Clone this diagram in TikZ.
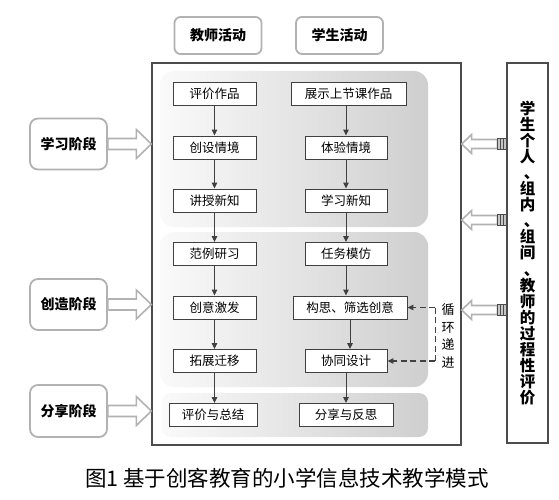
\documentclass[tikz,border=0pt]{standalone}
\usepackage{fontspec}
\setmainfont{Noto Sans CJK SC}
\usetikzlibrary{arrows.meta,calc}
\newcommand\vdun{\makebox[1em][l]{\hspace{0.26em}、}}
\begin{document}
\begin{tikzpicture}[x=1pt,y=-1pt,
  panel/.style={rounded corners=14pt, left color=gray!4, right color=gray!38, draw=none},
  stepbox/.style={draw=black!75, line width=0.9pt, fill=white, minimum height=23pt, minimum width=82pt, inner sep=0pt, font=\fontsize{12.5}{14}\selectfont},
  stage/.style={draw=gray!60, line width=1.8pt, rounded corners=8pt, fill=white, minimum width=77pt, minimum height=51pt, inner sep=0pt, font=\bfseries\fontsize{14}{16}\selectfont},
  role/.style={draw=gray!60, line width=1.8pt, rounded corners=6pt, fill=white, minimum width=87pt, minimum height=37pt, inner sep=0pt, font=\bfseries\fontsize{14}{16}\selectfont},
  flow/.style={draw=black!75, line width=1pt, -{Triangle[length=6pt,width=5.5pt]}},
  loopline/.style={draw=black!75, line width=1.3pt, dash pattern=on 6pt off 3.5pt},
  looparrow/.style={loopline, -{Triangle[length=6pt,width=5.5pt]}},
  hollow/.style={draw=gray!60, line width=1.6pt, fill=white, line join=miter},
  frame/.style={draw=black!70, line width=1.3pt}
]
\useasboundingbox (0,0) rectangle (559,500);
\fill[white] (0,0) rectangle (559,500);

% role labels
\node[role] (teacher) at (218,35.5) {教师活动};
\node[role] (student) at (339.5,35.5) {学生活动};

% outer frame
\node[frame, minimum width=309pt, minimum height=382pt, inner sep=0pt] (outer) at (306.5,254) {};

% panels
\path[panel] (160,71) rectangle (428,227);
\path[panel] (160,232) rectangle (428,387);
\path[panel, rounded corners=9pt] (162,393) rectangle (428,437);

% left column
\node[stepbox, minimum width=83pt] (L1) at (214.5,93.5) {评价作品};
\node[stepbox, minimum width=83pt] (L2) at (214.5,147.5) {创设情境};
\node[stepbox, minimum width=83pt] (L3) at (214.5,200.5) {讲授新知};
\node[stepbox, minimum width=83pt] (L4) at (214.5,254) {范例研习};
\node[stepbox, minimum width=83pt] (L5) at (214.5,307.5) {创意激发};
\node[stepbox, minimum width=83pt] (L6) at (214.5,361) {拓展迁移};
\node[stepbox, minimum width=88pt] (L7) at (213,415) {评价与总结};

% right column
\node[stepbox, minimum width=115pt] (R1) at (348.5,93.5) {展示上节课作品};
\node[stepbox] (R2) at (346,147.5) {体验情境};
\node[stepbox] (R3) at (346,200.5) {学习新知};
\node[stepbox] (R4) at (346,254) {任务模仿};
\node[stepbox, minimum width=114pt] (R5) at (350,307.5) {构思、筛选创意};
\node[stepbox] (R6) at (346,361) {协同设计};
\node[stepbox, minimum width=94pt] (R7) at (346,415) {分享与反思};

% flows
\foreach \a/\b in {L1/L2,L2/L3,L3/L4,L4/L5,L5/L6,L6/L7,R2/R3,R3/R4,R4/R5,R5/R6,R6/R7}
  \draw[flow] (\a.south) -- (\a.south |- \b.north);
\draw[flow] (R2.north |- R1.south) -- (R2.north);

% loop
\coordinate (lt) at ($(R5.east)+(28,0)$);
\coordinate (lb) at (lt |- R6.east);
\draw[loopline] (lt) -- (lb);
\draw[looparrow] (lt) -- (R5.east);
\draw[looparrow] (lb) -- (R6.east);
\node[font=\fontsize{13}{17.5}\selectfont, align=center, inner sep=0pt] (loopt) at (448,336) {循\\环\\递\\进};

% stages
\node[stage] (s1) at (68.5,144) {学习阶段};
\node[stage] (s2) at (68.5,304.5) {创造阶段};
\node[stage, minimum height=52pt] (s3) at (68.5,411) {分享阶段};

\foreach \s in {s1,s2,s3}{
  \coordinate (t) at (\s.east -| outer.west);
  \draw[hollow] ($(\s.east)+(0,-5.5)$) -- ($(t)+(-15,-5.5)$) -- ($(t)+(-15,-14.5)$) -- (t)
     -- ($(t)+(-15,14.5)$) -- ($(t)+(-15,5.5)$) -- ($(\s.east)+(0,5.5)$) -- cycle;
}

% evaluation box
\node[frame, minimum width=41pt, minimum height=380pt, inner sep=0pt, align=center,
      font=\bfseries\fontsize{15.5}{16.1}\selectfont] (eval) at (527.5,253)
  {学\\生\\个\\人\\\vdun\\组\\内\\\vdun\\组\\间\\\vdun\\教\\师\\的\\过\\程\\性\\评\\价};

\foreach \yy/\n in {144/e1,220/e2,310/e3}{
  \coordinate (\n) at (eval.west |- 0,\yy);
  \coordinate (tt) at (outer.east |- 0,\yy);
  \draw[hollow] ($(\n)+(-9,-4.5)$) -- ($(tt)+(10,-4.5)$) -- ($(tt)+(10,-9.5)$) -- (tt)
     -- ($(tt)+(10,9.5)$) -- ($(tt)+(10,4.5)$) -- ($(\n)+(-9,4.5)$) -- cycle;
  \draw[draw=black!70, fill=gray!45, line width=0.8pt] ($(\n)+(-9,-5.5)$) rectangle ($(\n)+(0,5.5)$);
  \draw[black!70, line width=0.6pt] ($(\n)+(-6,-5.5)$) -- ($(\n)+(-6,5.5)$) ($(\n)+(-3,-5.5)$) -- ($(\n)+(-3,5.5)$);
}

% caption
\node[font=\fontsize{21.5}{24}\selectfont, inner sep=0pt] (cap) at (287,478) {图1 基于创客教育的小学信息技术教学模式};
\end{tikzpicture}
\end{document}
